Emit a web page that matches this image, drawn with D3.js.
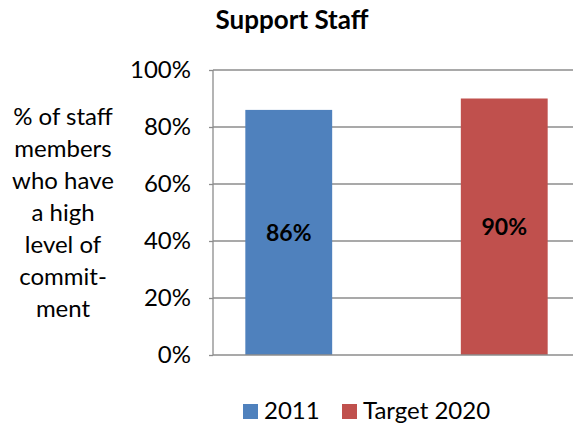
<!DOCTYPE html>
<html>
<head>
<meta charset="utf-8">
<script src="https://cdn.jsdelivr.net/npm/d3@7"></script>
<style>
  body { margin: 0; background: #fff; }
  svg { display: block; font-family: Lato, "Open Sans", sans-serif; }
</style>
</head>
<body>
<svg id="chart" width="573" height="424"></svg>
<script>
// 数据
const series = ['2011', 'Target 2020'];
const values = [86, 90];
const colors = ['#4F81BD', '#C0504D'];
const yTicks = [0, 20, 40, 60, 80, 100];
const yTitleLines = ['% of staff', 'members', 'who have', 'a high', 'level of', 'commit-', 'ment'];
const chartTitle = 'Support Staff';

const svg = d3.select('#chart');

// 绘图区域
const plot = { left: 213, right: 580, top: 70, bottom: 355 };

const x = d3.scaleBand()
    .domain(series)
    .range([plot.left, plot.right])
    .paddingInner(0.597)
    .paddingOuter(0.15);

const y = d3.scaleLinear()
    .domain([0, 100])
    .range([plot.bottom, plot.top]);

// 网格线
svg.append('g')
    .selectAll('line')
    .data(yTicks.filter(d => d > 0))
    .join('line')
    .attr('x1', plot.left)
    .attr('x2', plot.right)
    .attr('y1', d => y(d))
    .attr('y2', d => y(d))
    .attr('stroke', '#8c8c8c')
    .attr('stroke-width', 1.3);

// 柱子
svg.append('g')
    .selectAll('rect')
    .data(values)
    .join('rect')
    .attr('x', (d, i) => x(series[i]))
    .attr('y', d => y(d))
    .attr('width', x.bandwidth())
    .attr('height', d => y(0) - y(d))
    .attr('fill', (d, i) => colors[i]);

// 坐标轴
const yAxis = d3.axisLeft(y)
    .tickValues(yTicks)
    .tickSize(4)
    .tickPadding(18)
    .tickFormat(d => d + '%');

const yAxisG = svg.append('g')
    .attr('transform', `translate(${plot.left},0)`)
    .call(yAxis);
yAxisG.select('.domain').attr('stroke', '#8c8c8c').attr('stroke-width', 1.3)
    .attr('d', `M0,${plot.top}V${plot.bottom}`);
yAxisG.selectAll('.tick line').attr('stroke', '#8c8c8c').attr('stroke-width', 1.3);
yAxisG.selectAll('.tick text')
    .attr('font-size', 24)
    .attr('font-family', 'Lato, sans-serif')
    .attr('fill', '#000');

// x轴基线
svg.append('line')
    .attr('x1', plot.left)
    .attr('x2', plot.right)
    .attr('y1', y(0))
    .attr('y2', y(0))
    .attr('stroke', '#8c8c8c')
    .attr('stroke-width', 1.3);

// 数据标签
svg.append('g')
    .selectAll('text')
    .data(values)
    .join('text')
    .attr('x', (d, i) => x(series[i]) + x.bandwidth() / 2)
    .attr('y', d => y(d / 2))
    .attr('dy', '0.35em')
    .attr('text-anchor', 'middle')
    .attr('font-size', 23)
    .attr('font-weight', 'bold')
    .text(d => d + '%');

// 标题
svg.append('text')
    .attr('x', 292)
    .attr('y', 29)
    .attr('text-anchor', 'middle')
    .attr('font-size', 26)
    .attr('font-weight', 'bold')
    .text(chartTitle);

// y轴标题
svg.append('g')
    .selectAll('text')
    .data(yTitleLines)
    .join('text')
    .attr('x', 63)
    .attr('y', (d, i) => 116.7 + i * 31.9)
    .attr('dy', '0.35em')
    .attr('text-anchor', 'middle')
    .attr('font-size', 24)
    .text(d => d);

// 图例
const legend = svg.append('g').attr('transform', 'translate(0,411)');
const legendX = [243, 342];
const legendItem = legend.selectAll('g')
    .data(series)
    .join('g')
    .attr('transform', (d, i) => `translate(${legendX[i]},0)`);
legendItem.append('rect')
    .attr('x', 0)
    .attr('y', -7)
    .attr('width', 15)
    .attr('height', 15)
    .attr('fill', (d, i) => colors[i]);
legendItem.append('text')
    .attr('x', 21)
    .attr('y', 0)
    .attr('dy', '0.35em')
    .attr('font-size', 24)
    .text(d => d);
</script>
</body>
</html>
